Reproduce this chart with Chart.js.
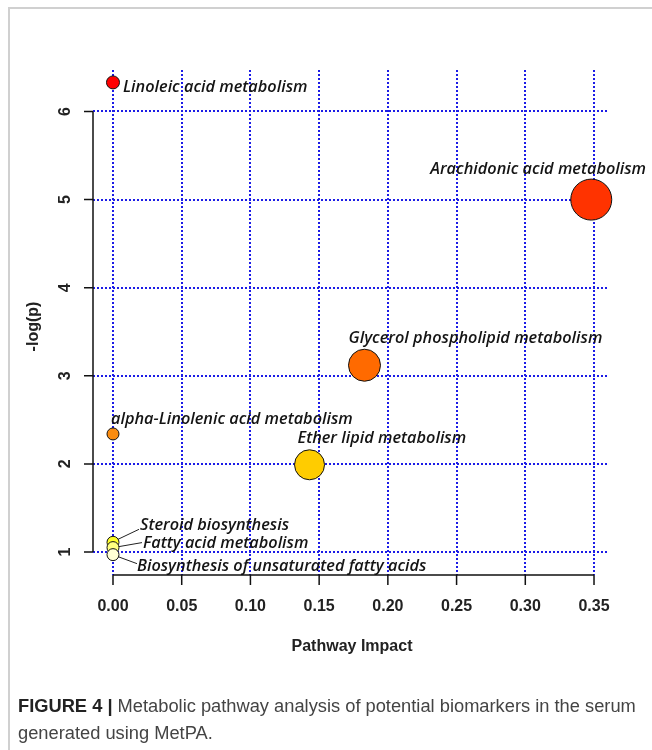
<!DOCTYPE html>
<html>
<head>
<meta charset="utf-8">
<title>Metabolic pathway analysis</title>
<script src="https://cdn.jsdelivr.net/npm/chart.js@4.4.0/dist/chart.umd.min.js"></script>
<style>
    html, body { margin: 0; padding: 0; background: #fff; }
    #wrap { position: relative; width: 652px; height: 750px; overflow: hidden; }
    #frame {
        position: absolute; left: 8px; top: 7px; width: 700px; height: 800px;
        border-top: 2px solid #d0d0d0; border-left: 2px solid #d0d0d0;
    }
    #pathwayChart { position: absolute; left: 0; top: 0; }
    #caption {
        position: absolute; left: 18px; top: 692px; width: 634px;
        font-family: "Liberation Sans", Arial, sans-serif; font-size: 18.3px;
        line-height: 27px; color: #444; white-space: nowrap;
    }
    #caption b { color: #222; }
</style>
</head>
<body>
<div id="wrap">
    <div id="frame"></div>
    <canvas id="pathwayChart" width="652" height="750"></canvas>
    <div id="caption"><b>FIGURE 4 |</b> Metabolic pathway analysis of potential biomarkers in the serum<br>generated using MetPA.</div>
</div>
<script>
// pathway data
const pathways = [
    'Linoleic acid metabolism',
    'Arachidonic acid metabolism',
    'Glycerol phospholipid metabolism',
    'alpha-Linolenic acid metabolism',
    'Ether lipid metabolism',
    'Steroid biosynthesis',
    'Fatty acid metabolism',
    'Biosynthesis of unsaturated fatty acids'
];
const impact = [0, 0.348, 0.183, 0, 0.143, 0, 0, 0];
const logP = [6.33, 5.0, 3.12, 2.34, 1.99, 1.11, 1.05, 0.97];
const bubbleRadius = [6.5, 20.5, 16, 6, 15, 6, 6, 6];

const xTicks = [0, 0.05, 0.10, 0.15, 0.20, 0.25, 0.30, 0.35];
const yTicks = [1, 2, 3, 4, 5, 6];

// heat colours, red = most significant
const heatColors = ['#ff0000', '#ff3300', '#ff6a00', '#fb8c10', '#ffcc00', '#ffff2a', '#ffff80', '#ffffd5'];

// where each label sits relative to its bubble (dx to text start, dy to text middle)
const labelOffsets = [
    { dx: 10, dy: 5 },
    { dx: -161, dy: -30 },
    { dx: -16, dy: -27 },
    { dx: -2, dy: -15 },
    { dx: -12, dy: -26 },
    { dx: 27, dy: -17, lead: [5, -3, 26, -13] },
    { dx: 30, dy: -4, lead: [6, -1, 29, -5] },
    { dx: 24, dy: 12, lead: [5, 2, 24, 9] }
];

const axisFont = 'bold 16px "Liberation Sans", Arial, sans-serif';

const rAxesPlugin = {
    id: 'rAxes',
    afterDraw(chart) {
        const { ctx, chartArea, scales: { x, y } } = chart;
        ctx.save();
        ctx.strokeStyle = '#111';
        ctx.lineWidth = 1.5;

        // y axis + ticks
        const ax = chartArea.left;
        ctx.beginPath();
        ctx.moveTo(ax, y.getPixelForValue(yTicks[0]));
        ctx.lineTo(ax, y.getPixelForValue(yTicks[yTicks.length - 1]));
        yTicks.forEach(v => {
            const py = y.getPixelForValue(v);
            ctx.moveTo(ax, py);
            ctx.lineTo(ax - 9, py);
        });
        // x axis + ticks
        const ay = chartArea.bottom;
        ctx.moveTo(x.getPixelForValue(xTicks[0]), ay);
        ctx.lineTo(x.getPixelForValue(xTicks[xTicks.length - 1]), ay);
        xTicks.forEach(v => {
            const px = x.getPixelForValue(v);
            ctx.moveTo(px, ay);
            ctx.lineTo(px, ay + 10);
        });
        ctx.stroke();

        ctx.fillStyle = '#222';
        ctx.font = axisFont;
        ctx.textAlign = 'center';
        ctx.textBaseline = 'middle';
        xTicks.forEach(v => {
            ctx.fillText(v.toFixed(2), x.getPixelForValue(v), ay + 32);
        });
        ctx.fillText('Pathway Impact', (chartArea.left + chartArea.right) / 2 + 2, ay + 72);

        yTicks.forEach(v => {
            ctx.save();
            ctx.translate(ax - 27, y.getPixelForValue(v));
            ctx.rotate(-Math.PI / 2);
            ctx.fillText(String(v), 0, 0);
            ctx.restore();
        });
        ctx.save();
        ctx.translate(ax - 59, (chartArea.top + chartArea.bottom) / 2 + 4);
        ctx.rotate(-Math.PI / 2);
        ctx.fillText('-log(p)', 0, 0);
        ctx.restore();

        ctx.restore();
    }
};

const labelPlugin = {
    id: 'pathwayLabels',
    afterDatasetsDraw(chart) {
        const { ctx, scales: { x, y } } = chart;
        ctx.save();
        ctx.font = 'italic 600 16.3px "Open Sans", sans-serif';
        ctx.fillStyle = '#141414';
        ctx.strokeStyle = '#222';
        ctx.lineWidth = 1;
        ctx.textAlign = 'left';
        ctx.textBaseline = 'middle';
        pathways.forEach((name, i) => {
            const px = x.getPixelForValue(impact[i]);
            const py = y.getPixelForValue(logP[i]);
            const o = labelOffsets[i];
            if (o.lead) {
                ctx.beginPath();
                ctx.moveTo(px + o.lead[0], py + o.lead[1]);
                ctx.lineTo(px + o.lead[2], py + o.lead[3]);
                ctx.stroke();
            }
            ctx.fillText(name, px + o.dx, py + o.dy);
        });
        ctx.restore();
    }
};

const gridStyle = {
    color: '#1c1ce6',
    lineWidth: 2,
    drawTicks: false
};

new Chart(document.getElementById('pathwayChart'), {
    type: 'bubble',
    data: {
        datasets: [{
            label: 'Pathways',
            data: pathways.map((p, i) => ({ x: impact[i], y: logP[i], r: bubbleRadius[i] })),
            backgroundColor: heatColors,
            borderColor: '#111',
            borderWidth: 1,
            clip: false
        }]
    },
    options: {
        responsive: false,
        animation: false,
        events: [],
        layout: {
            padding: { left: 93, right: 45, top: 70, bottom: 175 }
        },
        plugins: {
            legend: { display: false },
            tooltip: { enabled: false }
        },
        scales: {
            x: {
                type: 'linear',
                min: -0.01455,
                max: 0.35945,
                afterBuildTicks: scale => { scale.ticks = xTicks.map(v => ({ value: v })); },
                ticks: { display: false },
                grid: gridStyle,
                border: { display: false, dash: [2, 2] }
            },
            y: {
                type: 'linear',
                min: 0.739,
                max: 6.471,
                afterBuildTicks: scale => { scale.ticks = yTicks.map(v => ({ value: v })); },
                ticks: { display: false },
                grid: gridStyle,
                border: { display: false, dash: [2, 2] }
            }
        }
    },
    plugins: [rAxesPlugin, labelPlugin]
});
</script>
</body>
</html>
